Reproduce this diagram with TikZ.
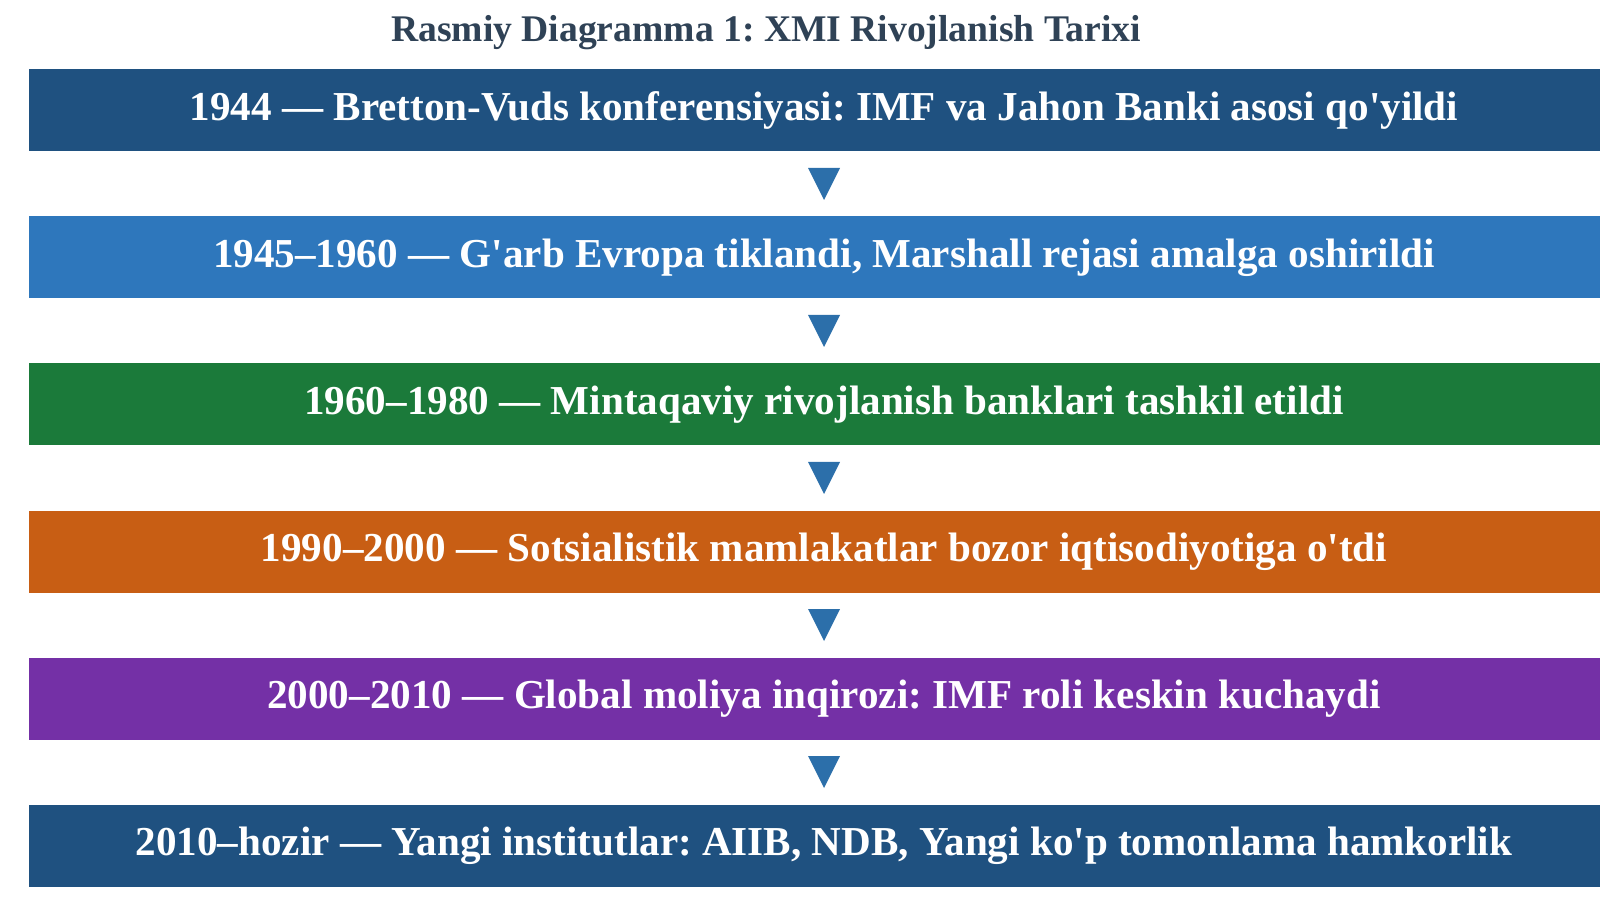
\documentclass[tikz,border=0pt]{standalone}
\usepackage{fontspec}
\setmainfont{Liberation Serif}
\usepackage{xcolor}
\usepackage{tikz}
\usetikzlibrary{calc}
\usetikzlibrary{positioning}

\definecolor{navy}{HTML}{1F5180}
\definecolor{midblue}{HTML}{2E77BC}
\definecolor{leaf}{HTML}{1B7A3A}
\definecolor{rust}{HTML}{C85E14}
\definecolor{plum}{HTML}{7430A6}
\definecolor{tipblue}{HTML}{2C6FAA}
\definecolor{slate}{HTML}{2F4256}
\newcommand{\q}{\textquotesingle}

\begin{document}
\frenchspacing
\begin{tikzpicture}[
  bar/.style={rectangle, minimum width=15.9cm, minimum height=0.82cm, inner sep=0pt,
    text=white, font=\fontsize{11.7}{13}\selectfont\bfseries},
  gap/.style={below=0.636cm of #1}
]
\useasboundingbox (0,0) rectangle (16,8.99);

% Title
\node[text=slate, font=\fontsize{10.7}{12}\selectfont\bfseries] (title) at (7.66,8.66)
  {Rasmiy Diagramma 1: XMI Rivojlanish Tarixi};

% Timeline bars
\node[bar, fill=navy] (b1) at (8.24,7.885)
  {1944 — Bretton-Vuds konferensiyasi: IMF va Jahon Banki asosi qo\q yildi};
\node[bar, fill=midblue, gap=b1] (b2)
  {1945–1960 — G\q arb Evropa tiklandi, Marshall rejasi amalga oshirildi};
\node[bar, fill=leaf, gap=b2] (b3)
  {1960–1980 — Mintaqaviy rivojlanish banklari tashkil etildi};
\node[bar, fill=rust, gap=b3] (b4)
  {1990–2000 — Sotsialistik mamlakatlar bozor iqtisodiyotiga o\q tdi};
\node[bar, fill=plum, gap=b4] (b5)
  {2000–2010 — Global moliya inqirozi: IMF roli keskin kuchaydi};
\node[bar, fill=navy, gap=b5] (b6)
  {2010–hozir — Yangi institutlar: AIIB, NDB, Yangi ko\q p tomonlama hamkorlik};

% Down triangles between bars
\foreach \a/\b in {b1/b2,b2/b3,b3/b4,b4/b5,b5/b6} {
  \coordinate (m\a) at ($(\a.south)!0.5!(\b.north)$);
  \fill[tipblue] ($(m\a)+(-0.16,0.16)$) -- ($(m\a)+(0.16,0.16)$) -- ($(m\a)+(0,-0.16)$) -- cycle;
}
\end{tikzpicture}
\end{document}
